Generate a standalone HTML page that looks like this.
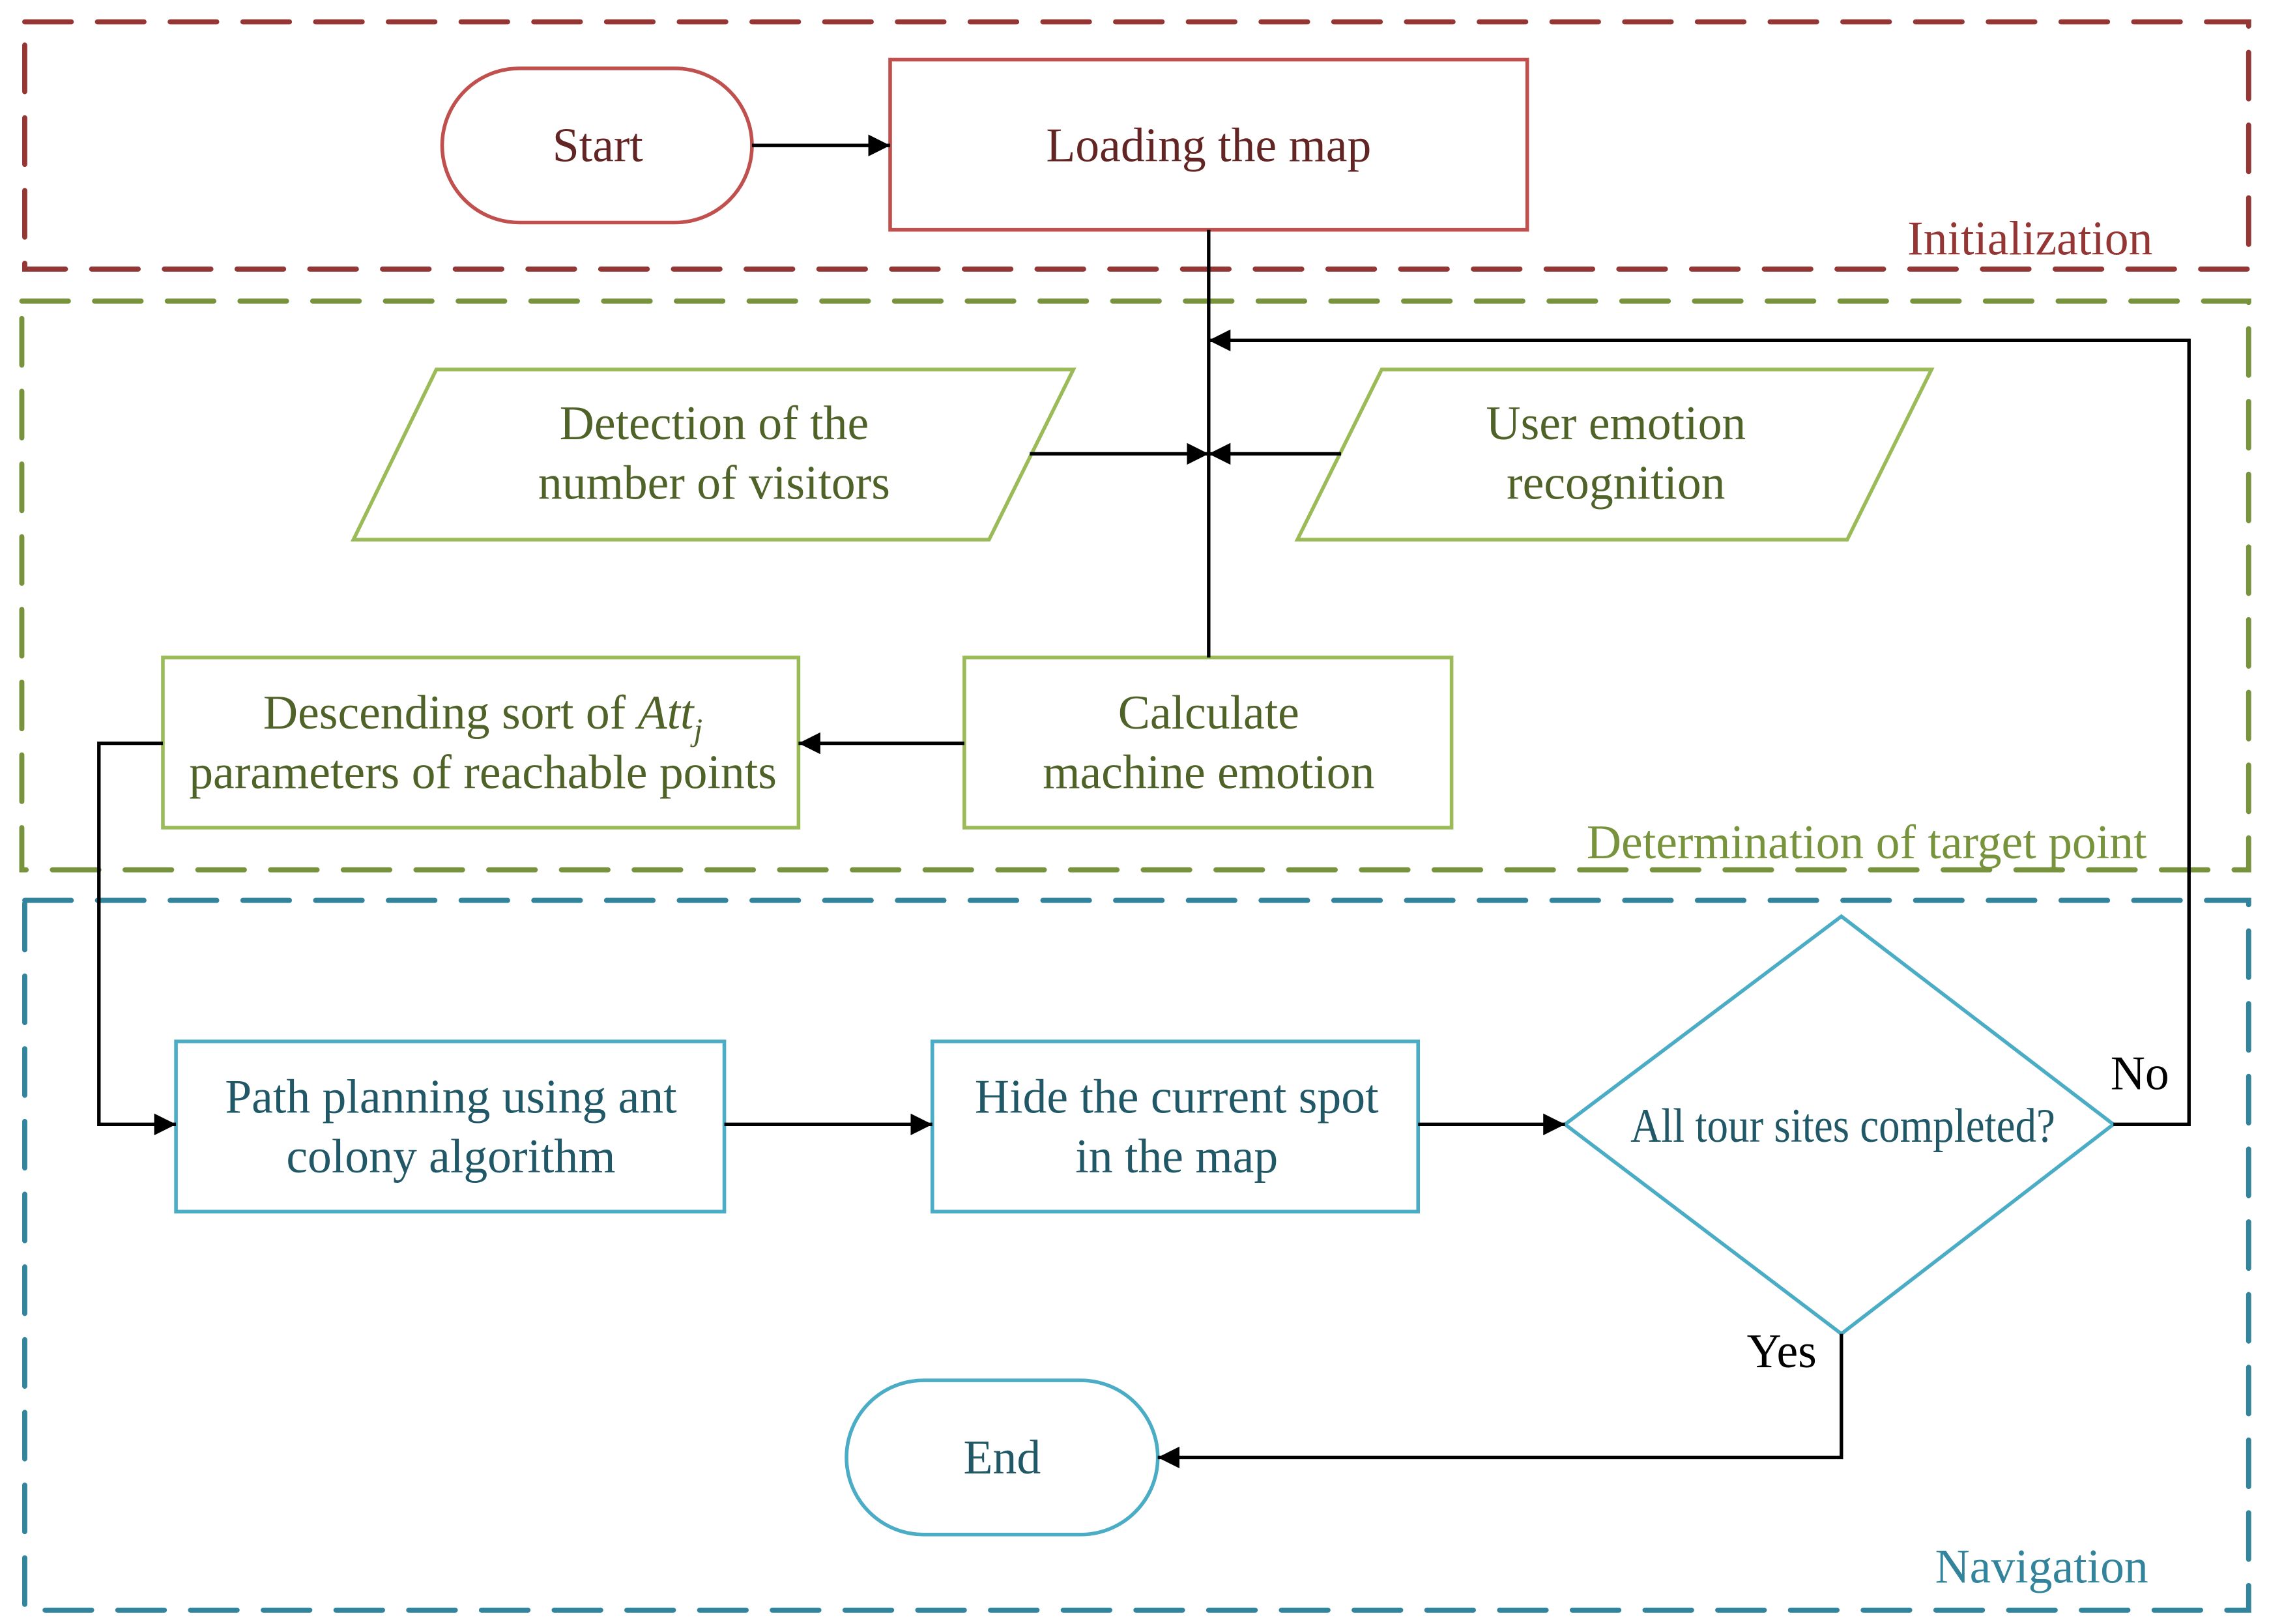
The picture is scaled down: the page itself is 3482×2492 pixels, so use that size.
<!DOCTYPE html>
<html><head><meta charset="utf-8"><style>html,body{margin:0;padding:0;background:#fff}svg{display:block}</style></head>
<body>
<svg width="3482" height="2492" viewBox="0 0 1560 1116.5" preserveAspectRatio="none" xmlns="http://www.w3.org/2000/svg" font-family="'Liberation Serif', serif" font-size="33">
<defs>
<marker id="a" viewBox="0 0 10 10" refX="10" refY="5" markerWidth="15" markerHeight="15" markerUnits="userSpaceOnUse" orient="auto"><path d="M0,0L10,5L0,10z" fill="#000"/></marker>
</defs>
<g fill="none" stroke-width="3.5" stroke-dasharray="32 18" stroke-linecap="round">
<rect x="17" y="15" width="1529" height="170" stroke="#943634"/>
<rect x="15" y="207" width="1531" height="391" stroke="#77933c"/>
<rect x="17" y="619" width="1529" height="488" stroke="#31849b"/>
</g>
<g fill="#fff" stroke-width="2.5">
<rect x="304" y="47" width="213" height="106" rx="53" stroke="#c0504d"/>
<rect x="612" y="41" width="438" height="117" stroke="#c0504d"/>
<polygon points="300,254 738,254 680,371 243,371" stroke="#9bbb59"/>
<polygon points="950,254 1328,254 1270,371 892,371" stroke="#9bbb59"/>
<rect x="663" y="452" width="335" height="117" stroke="#9bbb59"/>
<rect x="112" y="452" width="437" height="117" stroke="#9bbb59"/>
<rect x="121" y="716" width="377" height="117" stroke="#4bacc6"/>
<rect x="641" y="716" width="334" height="117" stroke="#4bacc6"/>
<polygon points="1266,630 1453,773 1266,917 1076,773" stroke="#4bacc6"/>
<rect x="582" y="949" width="214" height="106" rx="53" stroke="#4bacc6"/>
</g>
<g fill="none" stroke="#000" stroke-width="2.4">
<line x1="517" y1="100" x2="612" y2="100" marker-end="url(#a)"/>
<line x1="831" y1="158" x2="831" y2="452"/>
<line x1="708" y1="312" x2="831" y2="312" marker-end="url(#a)"/>
<line x1="922" y1="312" x2="831" y2="312" marker-end="url(#a)"/>
<polyline points="1453,773 1505,773 1505,234 831,234" marker-end="url(#a)"/>
<line x1="663" y1="511" x2="549" y2="511" marker-end="url(#a)"/>
<polyline points="112,511 68,511 68,773 121,773" marker-end="url(#a)"/>
<line x1="498" y1="773" x2="641" y2="773" marker-end="url(#a)"/>
<line x1="975" y1="773" x2="1076" y2="773" marker-end="url(#a)"/>
<polyline points="1266,917 1266,1002 796,1002" marker-end="url(#a)"/>
</g>
<g text-anchor="middle">
<text x="411" y="111" fill="#632523">Start</text>
<text x="831" y="111" fill="#632523">Loading the map</text>
<text x="491" y="302" fill="#4f6228">Detection of the</text>
<text x="491" y="343" fill="#4f6228">number of visitors</text>
<text x="1111" y="302" fill="#4f6228">User emotion</text>
<text x="1111" y="343" fill="#4f6228">recognition</text>
<text x="831" y="501" fill="#4f6228">Calculate</text>
<text x="831" y="542" fill="#4f6228">machine emotion</text>
<text x="332" y="501" fill="#4f6228">Descending sort of <tspan font-style="italic">Att</tspan><tspan font-style="italic" font-size="22" dy="8">j</tspan></text>
<text x="332" y="542" fill="#4f6228">parameters of reachable points</text>
<text x="310" y="765" fill="#215867">Path planning using ant</text>
<text x="310" y="806" fill="#215867">colony algorithm</text>
<text x="809" y="765" fill="#215867">Hide the current spot</text>
<text x="809" y="806" fill="#215867">in the map</text>
<text x="1267" y="785" fill="#215867" textLength="292" lengthAdjust="spacingAndGlyphs">All tour sites completed?</text>
<text x="689" y="1013" fill="#215867">End</text>
</g>
<text x="1451" y="749" fill="#000">No</text>
<text x="1201" y="940" fill="#000">Yes</text>
<g text-anchor="end">
<text x="1480" y="175" fill="#943634">Initialization</text>
<text x="1476" y="590" fill="#77933c">Determination of target point</text>
<text x="1477" y="1088" fill="#31849b">Navigation</text>
</g>
</svg>
</body></html>
